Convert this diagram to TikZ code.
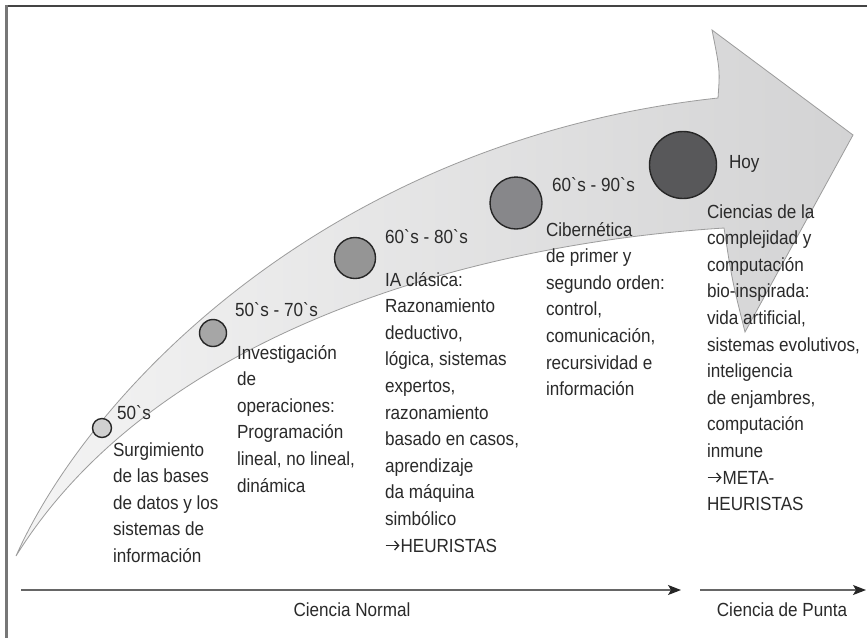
\documentclass[tikz,border=0pt]{standalone}
\usepackage{fontspec}
\setmainfont{Liberation Sans}[FakeStretch=0.9]
\usetikzlibrary{arrows.meta}
\definecolor{txt}{HTML}{2A2A2A}
\definecolor{frametop}{HTML}{444444}
\definecolor{frameleft}{HTML}{777777}
\definecolor{arrfill1}{HTML}{F4F4F4}
\definecolor{arrfill2}{HTML}{D3D3D4}
\definecolor{arredge}{HTML}{9C9C9C}
\definecolor{cA}{HTML}{D0D0D0}
\definecolor{cB}{HTML}{A6A6A6}
\definecolor{cC}{HTML}{959595}
\definecolor{cD}{HTML}{87878A}
\definecolor{cE}{HTML}{58585A}
\definecolor{axis}{HTML}{666666}
\newcommand{\gr}{\textasciigrave}
\begin{document}
\begin{tikzpicture}[x=1pt,y=-1pt,
  every node/.style={inner sep=0pt,outer sep=0pt},
  lbl/.style={anchor=base west,text=txt,font=\fontsize{19}{26.6}\selectfont},
  blk/.style={anchor=north west,align=left,text=txt,font=\fontsize{19}{26.6}\selectfont},
  dot/.style={circle,draw=black!85,line width=1.4pt,minimum size=#1,inner sep=0pt},
  axisarrow/.style={draw=axis,line width=1.3pt,-{Stealth[length=13pt,width=10pt,inset=3pt,fill=black!85,color=black!85]}},
  glypharrow/.style={draw=txt,line width=1.3pt,-{Straight Barb[length=4pt,width=9pt,line width=1.3pt]}},
  axlbl/.style={anchor=base,text=txt,font=\fontsize{19}{26.6}\selectfont}]
\useasboundingbox (0,0) rectangle (867,638);
\fill[white] (0,0) rectangle (867,638);
% frame
\draw[frametop,line width=2pt] (5.25,6) -- (867,6);
\draw[frameleft,line width=2.5pt] (6.5,5) -- (6.5,638);
% big curved arrow
\shadedraw[left color=arrfill1,right color=arrfill2,draw=arredge,line width=0.8pt,line join=miter]
  (16,556) .. controls (90,390) and (330,140) .. (718,98)
  .. controls (720,70) .. (712,30)
  -- (853,135) -- (745,332)
  .. controls (732,280) .. (724,228)
  .. controls (455,245) and (150,340) .. (16,556) -- cycle;
% circles
\node[dot=19pt,fill=cA] (c1) at (102,428) {};
\node[dot=27pt,fill=cB] (c2) at (213,333) {};
\node[dot=41pt,fill=cC] (c3) at (355,258) {};
\node[dot=52pt,fill=cD] (c4) at (516,203) {};
\node[dot=67pt,fill=cE] (c5) at (683,165) {};
% labels
\node[lbl] (l1) at (117,419) {50\gr s};
\node[lbl] (l2) at (235,316) {50\gr s - 70\gr s};
\node[lbl] (l3) at (385,243) {60\gr s - 80\gr s};
\node[lbl] (l4) at (552,191) {60\gr s - 90\gr s};
\node[lbl] (l5) at (729,168) {Hoy};
% text blocks
\node[blk] (t1) at (113,437.4) {\strut Surgimiento\\de las bases\\de datos y los\\sistemas de\\información};
\node[blk] (t2) at (237,340.4) {\strut Investigación\\de\\operaciones:\\Programación\\lineal, no lineal,\\dinámica};
\node[blk] (t3) at (385,267.4) {\strut IA clásica:\\Razonamiento\\deductivo,\\lógica, sistemas\\expertos,\\razonamiento\\basado en casos,\\aprendizaje\\da máquina\\simbólico\\\hspace*{15.5pt}HEURISTAS};
\node[blk] (t4) at (546,217.4) {\strut Cibernética\\de primer y\\segundo orden:\\control,\\comunicación,\\recursividad e\\información};
\node[blk] (t5) at (707,199.4) {\strut Ciencias de la\\complejidad y\\computación\\bio-inspirada:\\vida artificial,\\sistemas evolutivos,\\inteligencia\\de enjambres,\\computación\\inmune\\\hspace*{15.5pt}META-\\HEURISTAS};
% arrow glyphs in front of HEURISTAS / META-
\coordinate (g1s) at (385.5,545.5);
\coordinate (g1e) at (399.5,545.5);
\coordinate (g2s) at (707.5,477.5);
\coordinate (g2e) at (721.5,477.5);
\draw[glypharrow] (g1s) -- (g1e);
\draw[glypharrow] (g2s) -- (g2e);
% bottom axis
\coordinate (a1s) at (21,590);
\coordinate (a1e) at (681,590);
\coordinate (a2s) at (700,590);
\coordinate (a2e) at (866,590);
\draw[axisarrow] (a1s) -- (a1e);
\draw[axisarrow] (a2s) -- (a2e);
\node[axlbl] (n1) at (352,616) {Ciencia Normal};
\node[axlbl] (n2) at (782,616) {Ciencia de Punta};
\end{tikzpicture}
\end{document}
